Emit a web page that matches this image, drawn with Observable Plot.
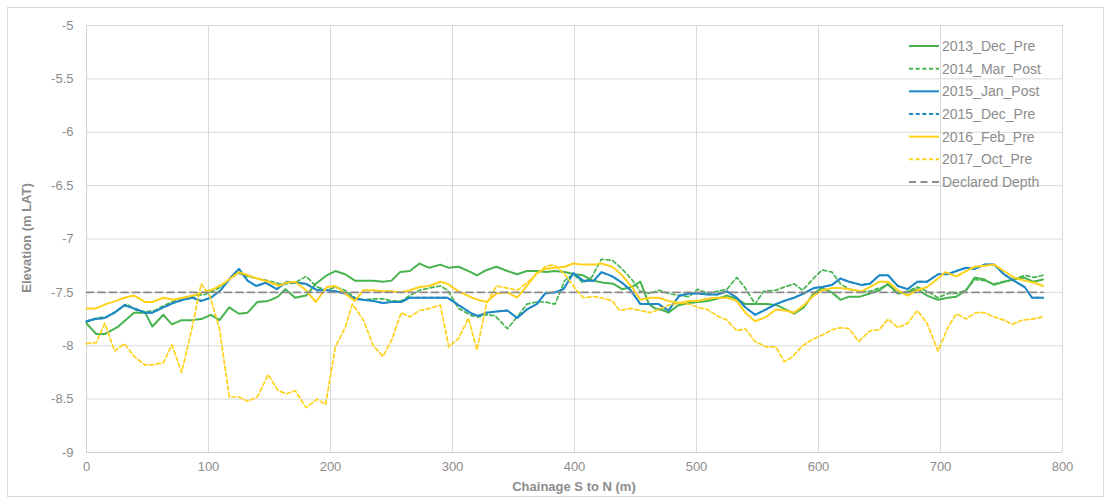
<!DOCTYPE html>
<html>
<head>
<meta charset="utf-8">
<script src="https://cdn.jsdelivr.net/npm/d3@7"></script>
<script src="https://cdn.jsdelivr.net/npm/@observablehq/plot@0.6"></script>
<style>
  html, body { margin: 0; padding: 0; background: #fff; }
  #chart { width: 1111px; height: 504px; }
</style>
</head>
<body>
<div id="chart"></div>
<script>
// ---- Data (chainage m, elevation m LAT) ----
const xTicks = [0, 100, 200, 300, 400, 500, 600, 700, 800];
const yTicks = [-9, -8.5, -8, -7.5, -7, -6.5, -6, -5.5, -5];

const seriesNames = ["2013_Dec_Pre", "2014_Mar_Post", "2015_Jan_Post", "2015_Dec_Pre", "2016_Feb_Pre", "2017_Oct_Pre", "Declared Depth"];
const seriesColors = ["#47b34e", "#47b34e", "#1f88c6", "#1f88c6", "#ffd11a", "#ffd11a", "#8c8c8c"];
const seriesDash = [null, "4,2.7", null, "4,2.7", null, "4,2.7", "7,4.5"];

const dec2013 = [[0,-7.79],[8,-7.89],[15,-7.89],[26,-7.82],[39,-7.69],[48,-7.69],[54,-7.82],[63,-7.71],[70,-7.80],[78,-7.76],[86,-7.76],[94,-7.75],[102,-7.71],[109,-7.76],[117,-7.64],[125,-7.70],[132,-7.69],[140,-7.59],[149,-7.58],[157,-7.54],
  [163,-7.47],[171,-7.55],[180,-7.53],[188,-7.42],[197,-7.34],[204,-7.30],[212,-7.33],[220,-7.39],[227,-7.39],[235,-7.39],[243,-7.40],[250,-7.39],[257,-7.31],[265,-7.30],[273,-7.23],[281,-7.27],[290,-7.24],[297,-7.27],[305,-7.26],[315,-7.31],
  [320,-7.34],[328,-7.29],[336,-7.26],[345,-7.30],[353,-7.33],[361,-7.30],[369,-7.30],[377,-7.31],[384,-7.30],[392,-7.31],[400,-7.33],[407,-7.34],[415,-7.39],[424,-7.41],[432,-7.42],[439,-7.47],[447,-7.45],[454,-7.40],[461,-7.61],[466,-7.65],[473,-7.67],
  [477,-7.69],[485,-7.62],[494,-7.60],[501,-7.59],[509,-7.58],[517,-7.56],[525,-7.53],[533,-7.56],[540,-7.61],[549,-7.61],[558,-7.61],[566,-7.62],[573,-7.66],[580,-7.70],[588,-7.64],[596,-7.51],[603,-7.46],[611,-7.50],[618,-7.57],[625,-7.54],
  [634,-7.54],[642,-7.51],[650,-7.48],[657,-7.42],[665,-7.51],[673,-7.50],[681,-7.47],[689,-7.53],[698,-7.57],[706,-7.55],[713,-7.54],[721,-7.48],[728,-7.36],[736,-7.38],[744,-7.43],[752,-7.40],[760,-7.38],[768,-7.36],[776,-7.40],[784,-7.38]];

const mar2014 = [[0,-7.78],[8,-7.74],[16,-7.73],[24,-7.68],[33,-7.61],[41,-7.67],[49,-7.68],[56,-7.67],[64,-7.62],[72,-7.58],[80,-7.55],[89,-7.53],[97,-7.52],[105,-7.48],[110,-7.45],[119,-7.36],[125,-7.32],[132,-7.35],[140,-7.37],[149,-7.39],[158,-7.42],
  [163,-7.42],[171,-7.41],[180,-7.35],[189,-7.45],[197,-7.48],[204,-7.45],[212,-7.48],[220,-7.55],[227,-7.57],[235,-7.56],[243,-7.56],[250,-7.58],[258,-7.58],[265,-7.53],[273,-7.48],[281,-7.46],[290,-7.44],[296,-7.48],[305,-7.65],[316,-7.72],
  [321,-7.73],[328,-7.71],[335,-7.72],[345,-7.84],[353,-7.73],[361,-7.61],[369,-7.59],[376,-7.59],[384,-7.61],[392,-7.39],[399,-7.33],[407,-7.41],[414,-7.36],[422,-7.19],[431,-7.20],[439,-7.28],[447,-7.38],[454,-7.49],[462,-7.51],[469,-7.48],
  [477,-7.51],[486,-7.53],[494,-7.54],[501,-7.47],[509,-7.51],[517,-7.49],[525,-7.47],[533,-7.36],[540,-7.46],[548,-7.61],[555,-7.49],[565,-7.48],[572,-7.45],[580,-7.42],[587,-7.48],[595,-7.38],[603,-7.29],[611,-7.31],[618,-7.42],[625,-7.47],
  [635,-7.49],[642,-7.49],[650,-7.46],[657,-7.43],[665,-7.51],[673,-7.49],[681,-7.45],[689,-7.49],[698,-7.55],[706,-7.51],[713,-7.51],[721,-7.48],[728,-7.38],[736,-7.39],[744,-7.42],[752,-7.40],[760,-7.38],[769,-7.34],[777,-7.36],[784,-7.34]];

const jan2015 = [[0,-7.77],[7,-7.75],[15,-7.74],[23,-7.69],[31,-7.62],[39,-7.65],[48,-7.69],[54,-7.69],[63,-7.64],[71,-7.60],[79,-7.57],[87,-7.55],[94,-7.58],[102,-7.55],[110,-7.48],[119,-7.35],[125,-7.28],[132,-7.39],[139,-7.44],[147,-7.41],[156,-7.47],
  [164,-7.40],[172,-7.41],[180,-7.42],[189,-7.48],[197,-7.48],[204,-7.49],[212,-7.51],[220,-7.56],[227,-7.57],[235,-7.58],[243,-7.60],[250,-7.59],[258,-7.59],[265,-7.55],[273,-7.55],[281,-7.55],[290,-7.55],[296,-7.55],[305,-7.62],[316,-7.70],
  [321,-7.72],[328,-7.69],[336,-7.68],[345,-7.67],[353,-7.74],[361,-7.66],[369,-7.61],[376,-7.51],[384,-7.50],[391,-7.47],[399,-7.32],[407,-7.39],[416,-7.39],[422,-7.31],[431,-7.35],[439,-7.41],[446,-7.48],[454,-7.61],[462,-7.61],[469,-7.61],
  [477,-7.67],[486,-7.53],[494,-7.51],[501,-7.51],[509,-7.52],[517,-7.52],[525,-7.49],[533,-7.55],[540,-7.64],[548,-7.71],[557,-7.66],[565,-7.61],[572,-7.58],[580,-7.55],[588,-7.51],[596,-7.46],[603,-7.45],[611,-7.43],[618,-7.37],[625,-7.40],
  [635,-7.43],[642,-7.42],[650,-7.34],[657,-7.34],[665,-7.44],[673,-7.47],[681,-7.40],[689,-7.40],[698,-7.33],[706,-7.33],[713,-7.30],[721,-7.27],[728,-7.28],[736,-7.24],[744,-7.24],[752,-7.33],[760,-7.39],[769,-7.45],[775,-7.55],[784,-7.55]];

// 2015_Dec_Pre lies exactly under 2015_Jan_Post in the reference
const dec2015 = jan2015;

const feb2016 = [[0,-7.65],[8,-7.65],[16,-7.61],[24,-7.58],[31,-7.55],[39,-7.53],[48,-7.59],[54,-7.59],[63,-7.55],[71,-7.57],[79,-7.55],[87,-7.53],[95,-7.50],[104,-7.47],[112,-7.42],[119,-7.36],[125,-7.31],[132,-7.34],[140,-7.37],[149,-7.40],[158,-7.44],
  [163,-7.41],[171,-7.40],[179,-7.47],[188,-7.59],[197,-7.45],[204,-7.44],[212,-7.51],[220,-7.58],[227,-7.48],[235,-7.48],[243,-7.49],[250,-7.49],[258,-7.50],[265,-7.48],[273,-7.45],[281,-7.44],[290,-7.40],[296,-7.42],[305,-7.49],[316,-7.55],
  [321,-7.57],[328,-7.59],[336,-7.51],[345,-7.50],[353,-7.55],[361,-7.44],[369,-7.32],[376,-7.28],[384,-7.27],[392,-7.26],[399,-7.23],[407,-7.24],[416,-7.24],[422,-7.23],[431,-7.26],[439,-7.34],[447,-7.45],[454,-7.57],[462,-7.55],[469,-7.55],
  [477,-7.58],[486,-7.60],[494,-7.58],[501,-7.58],[509,-7.56],[517,-7.55],[525,-7.55],[533,-7.58],[540,-7.69],[548,-7.77],[557,-7.73],[565,-7.66],[573,-7.67],[580,-7.69],[588,-7.62],[596,-7.53],[603,-7.48],[611,-7.46],[618,-7.46],[625,-7.47],
  [635,-7.49],[642,-7.45],[650,-7.40],[657,-7.40],[665,-7.48],[673,-7.53],[681,-7.48],[689,-7.45],[698,-7.37],[704,-7.31],[713,-7.35],[721,-7.30],[728,-7.26],[736,-7.25],[744,-7.24],[752,-7.30],[760,-7.36],[769,-7.39],[777,-7.41],[784,-7.44]];

const oct2017 = [[0,-7.98],[8,-7.97],[15,-7.79],[23,-8.05],[31,-7.98],[39,-8.10],[48,-8.18],[54,-8.18],[63,-8.16],[70,-7.99],[78,-8.25],[86,-7.86],[94,-7.42],[101,-7.53],[109,-7.84],[117,-8.48],[125,-8.48],[132,-8.52],[140,-8.48],[149,-8.27],[157,-8.42],
  [164,-8.45],[171,-8.42],[180,-8.58],[189,-8.50],[196,-8.55],[204,-8.01],[212,-7.83],[218,-7.61],[227,-7.76],[235,-8.00],[243,-8.10],[250,-7.95],[258,-7.69],[265,-7.73],[273,-7.67],[281,-7.65],[290,-7.62],[297,-8.01],[305,-7.93],[313,-7.74],
  [320,-8.04],[328,-7.60],[336,-7.44],[345,-7.46],[353,-7.48],[361,-7.41],[369,-7.33],[376,-7.26],[383,-7.24],[392,-7.33],[399,-7.44],[407,-7.55],[416,-7.54],[422,-7.55],[431,-7.58],[437,-7.67],[446,-7.65],[454,-7.67],[462,-7.69],[469,-7.66],
  [477,-7.62],[486,-7.60],[494,-7.61],[501,-7.64],[509,-7.66],[517,-7.72],[525,-7.76],[533,-7.86],[540,-7.84],[548,-7.96],[557,-8.01],[565,-8.01],[572,-8.15],[578,-8.11],[587,-8.00],[595,-7.94],[603,-7.90],[611,-7.85],[618,-7.83],[625,-7.84],
  [633,-7.96],[642,-7.86],[650,-7.85],[657,-7.75],[665,-7.83],[673,-7.79],[681,-7.67],[689,-7.79],[698,-8.05],[706,-7.83],[713,-7.70],[721,-7.75],[729,-7.69],[736,-7.69],[744,-7.73],[752,-7.76],[759,-7.80],[767,-7.76],[775,-7.75],[784,-7.73]];

const declaredDepth = [[0,-7.5],[784,-7.5]];

const allSeries = [dec2013, mar2014, jan2015, dec2015, feb2016, oct2017, declaredDepth];

// ---- Chart ----
const W = 1111, H = 504;
const textColor = "#8c8c8c";
const gridColor = "#d9d9d9";

const lineMarks = allSeries.map((data, i) => Plot.line(data, {
  x: d => d[0], y: d => d[1],
  stroke: seriesColors[i],
  strokeWidth: i === 6 ? 1.8 : (seriesDash[i] ? 1.7 : 2),
  strokeDasharray: seriesDash[i] || undefined,
  strokeLinejoin: "round"
}));

const chart = Plot.plot({
  width: W, height: H,
  marginLeft: 86, marginRight: 49, marginTop: 25, marginBottom: 52,
  style: { fontFamily: "'Liberation Sans', Arial, sans-serif", fontSize: "13px", color: textColor, background: "#fff", overflow: "visible" },
  x: { domain: [0, 800] },
  y: { domain: [-9, -5] },
  marks: [
    Plot.gridY(yTicks, { stroke: gridColor, strokeOpacity: 1 }),
    Plot.gridX(xTicks, { stroke: gridColor, strokeOpacity: 1 }),
    Plot.ruleX([0], { stroke: "#cfcfcf" }),
    Plot.ruleY([-9], { stroke: "#cfcfcf" }),
    Plot.axisY(yTicks, { tickSize: 0, tickPadding: 13, tickFormat: d => String(d), label: null, fill: textColor }),
    Plot.axisX(xTicks, { tickSize: 0, tickPadding: 9, tickFormat: d => String(d), label: null, fill: textColor }),
    ...lineMarks
  ]
});

document.getElementById("chart").appendChild(chart);

const svg = d3.select(chart);

// outer frame
svg.insert("rect", ":first-child")
  .attr("x", 7.5).attr("y", 7.5).attr("width", W - 15).attr("height", H - 15)
  .attr("fill", "none").attr("stroke", "#d9d9d9");

// axis titles
svg.append("text")
  .attr("x", 574).attr("y", 491)
  .attr("text-anchor", "middle")
  .attr("font-weight", "bold").attr("font-size", 13)
  .attr("fill", textColor)
  .text("Chainage S to N (m)");

svg.append("text")
  .attr("transform", "translate(31,238) rotate(-90)")
  .attr("text-anchor", "middle")
  .attr("font-weight", "bold").attr("font-size", 13)
  .attr("fill", textColor)
  .text("Elevation (m LAT)");

// legend
const lg = svg.append("g").attr("font-size", 14).attr("fill", textColor).attr("text-anchor", "start");
seriesNames.forEach((name, i) => {
  const y = 46 + i * 22.67;
  lg.append("line")
    .attr("x1", 909).attr("x2", 939).attr("y1", y).attr("y2", y)
    .attr("stroke", seriesColors[i])
    .attr("stroke-width", i === 6 ? 1.8 : 2)
    .attr("stroke-dasharray", seriesDash[i]);
  lg.append("text")
    .attr("x", 942).attr("y", y).attr("dy", "0.35em")
    .attr("text-anchor", "start")
    .text(name);
});
</script>
</body>
</html>
